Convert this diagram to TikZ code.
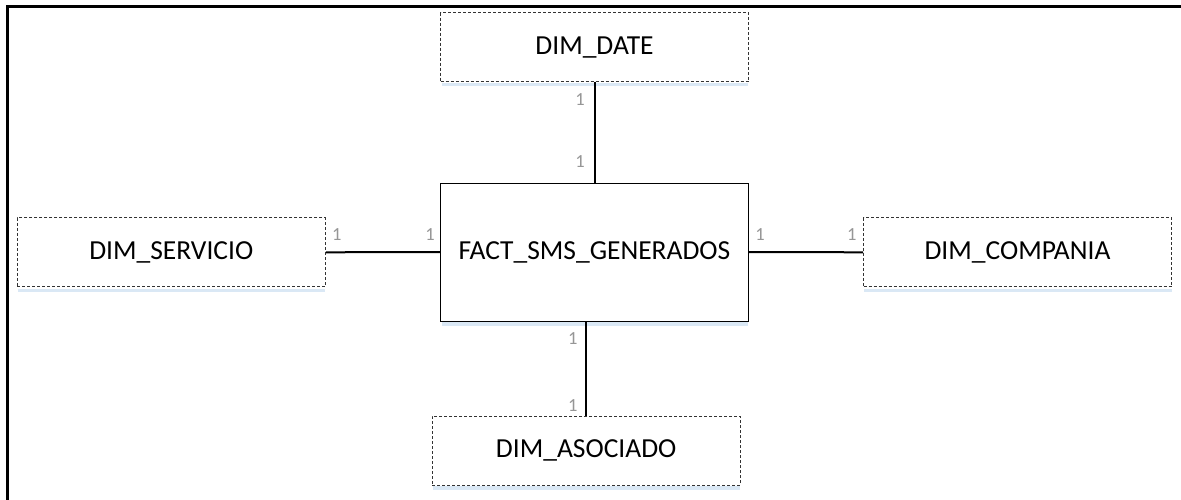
\documentclass[tikz,border=0pt]{standalone}
\usepackage{fontspec}
\setmainfont{Carlito}
\definecolor{shadowblue}{RGB}{218,232,245}
\definecolor{cardgray}{RGB}{150,150,150}
\begin{document}
\begin{tikzpicture}[x=1pt,y=-1pt,
  dimbox/.style={draw=black!80, dash pattern=on 3pt off 2pt, line width=0.9pt,
    minimum width=308pt, minimum height=69pt, inner sep=0pt, font=\fontsize{27.5}{30}\selectfont},
  factbox/.style={draw=black, line width=1pt,
    minimum width=308pt, minimum height=138pt, inner sep=0pt, font=\fontsize{27.5}{30}\selectfont},
  link/.style={draw=black, line width=2pt},
  card/.style={text=cardgray, font=\fontsize{18.5}{20}\selectfont, inner sep=0pt},
  frameline/.style={draw=black, line width=3pt}]
\useasboundingbox (0,0) rectangle (1181,500);

% outer frame (top and left edges only)
\draw[frameline] (1181,6.5) -- (7.5,6.5) -- (7.5,500);

% light blue strips under the boxes
\foreach \xa/\xb/\yb in {441/748/82, 17/325/287.5, 863/1172/287.5, 441/748/321, 432/740/485}{
  \fill[shadowblue] (\xa+1,\yb+1) rectangle (\xb,\yb+4.5);
}

% entities
\node[factbox] (fact) at (594.5,252) {FACT\_SMS\_GENERADOS};
\node[dimbox] (date) at (594.5,47.2) {DIM\_DATE};
\node[dimbox] (serv) at (171.3,252.3) {DIM\_SERVICIO};
\node[dimbox] (comp) at (1017.5,252.3) {DIM\_COMPANIA};
\node[dimbox] (asoc) at (586.2,450.5) {DIM\_ASOCIADO};

% relationships
\draw[link] (date.south) -- (fact.north);
\draw[link] (serv.east) -- (fact.west);
\draw[link] (fact.east) -- (comp.west);
\draw[link] (asoc.north) -- (asoc.north |- fact.south);

% cardinalities
\node[card] (c1) at (580,100) {1};
\node[card] (c2) at (580,162) {1};
\node[card] (c3) at (336.7,234.5) {1};
\node[card] (c4) at (430,234.5) {1};
\node[card] (c5) at (760,234.5) {1};
\node[card] (c6) at (851.7,234.5) {1};
\node[card] (c7) at (572.7,339) {1};
\node[card] (c8) at (572.7,405.7) {1};
\end{tikzpicture}
\end{document}
